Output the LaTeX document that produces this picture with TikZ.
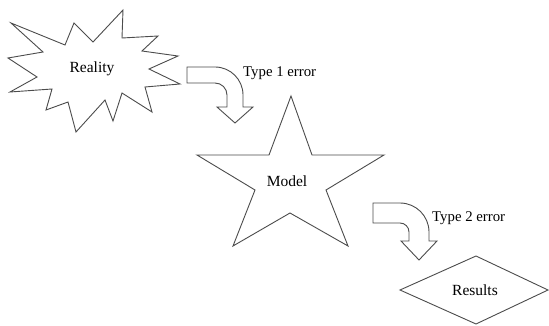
\documentclass[tikz,border=0pt]{standalone}
\usepackage{fontspec}
\setmainfont{Liberation Serif}
\tikzset{
  outline/.style={draw=black!70, line width=0.9pt, line join=miter, fill=white},
  lbl/.style={font=\fontsize{15.5}{18}\selectfont, inner sep=0pt, text=black},
  errlbl/.style={lbl, font=\fontsize{14.8}{18}\selectfont, anchor=west}
}
\begin{document}
\begin{tikzpicture}[x=1pt,y=-1pt]
\useasboundingbox (0,0) rectangle (549,326);
% Reality burst
\draw[outline] (11,23) -- (65,45) -- (74,23) -- (93,42) -- (123,10) -- (122,38)
  -- (158,36) -- (142,51) -- (178,56) -- (149,69) -- (180,84) -- (145,87)
  -- (152,112) -- (122,93) -- (113,121) -- (105,100) -- (76,132) -- (68,102)
  -- (46,110) -- (52,89) -- (10,92) -- (37,77) -- (8,58) -- (43,52) -- cycle;
\node[lbl] (reality) at (92,69) {Reality};
% Model star
\draw[outline] (291,96) -- (312,155) -- (384,155) -- (326,190) -- (348,246)
  -- (290,213) -- (233,246) -- (255,190) -- (197,155) -- (269,155) -- cycle;
\node[lbl] (model) at (287,181) {Model};
% Results diamond
\draw[outline] (400,290) -- (476,256) -- (548,290) -- (476,324) -- cycle;
\node[lbl] (results) at (475,290) {Results};
% Type 1 curved arrow
\draw[outline] (187,67) -- (215,67) arc[start angle=-90, end angle=0, radius=28]
  -- (243,107) -- (253,107) -- (235,123) -- (217,107) -- (227,107) -- (227,95)
  arc[start angle=0, end angle=-90, radius=12] -- (187,83) -- cycle;
\node[errlbl] (t1) at (243,73) {Type 1 error};
% Type 2 curved arrow
\draw[outline] (373,203) -- (400,203) arc[start angle=-90, end angle=0, radius=29]
  -- (429,241) -- (437,241) -- (419,260) -- (401,241) -- (409,241) -- (409,232)
  arc[start angle=0, end angle=-90, radius=9] -- (373,223) -- cycle;
\node[errlbl] (t2) at (432,218) {Type 2 error};
\end{tikzpicture}
\end{document}
